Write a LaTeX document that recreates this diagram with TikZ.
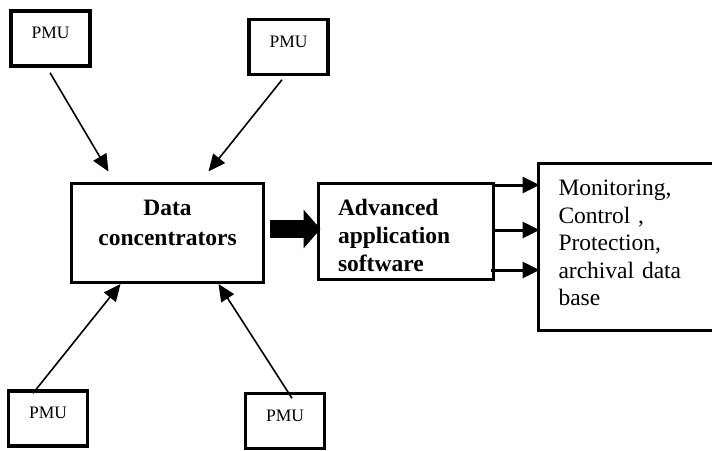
\documentclass[tikz,border=0pt]{standalone}
\usepackage{fontspec}
\setmainfont{Liberation Serif}
\usetikzlibrary{arrows.meta,calc}

\begin{document}
\begin{tikzpicture}[
  x=1pt,y=-1pt,line width=3pt,
  pmubox/.style={draw,line width=3.5pt,minimum width=79pt,minimum height=55pt,inner sep=0pt,
    font=\fontsize{17.5}{20}\selectfont,text height=6pt,text depth=6pt},
  mainbox/.style={draw,line width=3pt,inner sep=0pt},
  headtxt/.style={font=\fontsize{23.5}{28}\selectfont\bfseries,inner sep=0pt},
  listtxt/.style={font=\fontsize{23.5}{27.5}\selectfont,inner sep=0pt,text width=140pt,align=left},
  feed/.style={-{Triangle[length=17pt,width=15pt]},line width=1.6pt},
  outarrow/.style={-{Triangle[length=17pt,width=16pt]},line width=3pt,shorten >=-2.5pt}
]
\clip (0,0) rectangle (712,450);

\node[pmubox] (p1) at (50.5,38.5) {PMU};
\node[pmubox] (p2) at (288.5,47) {PMU};
\node[pmubox] (p3) at (48,418.5) {PMU};
\node[pmubox] (p4) at (285,421) {PMU};

\node[mainbox,minimum width=192pt,minimum height=99pt] (dc) at (167.5,233) {};
\node[headtxt,align=center,font=\fontsize{23.5}{30}\selectfont\bfseries] (dctxt)
  at ([yshift=10pt]dc.center) {Data\\concentrators};

\node[mainbox,minimum width=175pt,minimum height=96pt] (aas) at (406,231.5) {};
\begin{scope}
  \clip (aas.north west) rectangle ([yshift=10pt]aas.south east);
  \node[headtxt,text width=136pt,align=left] (aastxt) at ([yshift=-3.5pt]aas.center)
    {Advanced\\application\\software};
\end{scope}

\node[mainbox,minimum width=180pt,minimum height=167pt] (rb) at (628.5,247) {};
\node[listtxt] (rbtxt) at ([yshift=4pt]rb.center)
  {Monitoring,\\Control ,\\Protection,\\archival data\\base};

% PMU feeds
\draw[feed] ([xshift=-0.5pt,yshift=-5pt]p1.south) -- ([xshift=38.5pt,yshift=10.5pt]dc.north west);
\draw[feed] ([xshift=-6.5pt,yshift=-3.5pt]p2.south) -- ([xshift=138.5pt,yshift=10.5pt]dc.north west);
\draw[feed] ([xshift=-15pt,yshift=-4pt]p3.north) -- ([xshift=50.5pt]dc.south west);
\draw[feed] ([xshift=7pt,yshift=-6.5pt]p4.north) -- ([xshift=148.5pt]dc.south west);

% block arrow
\draw[line width=18pt,-{Triangle[length=17pt,width=38pt]},shorten <=4.5pt,shorten >=-3.5pt]
  (dc.east |- 0,229) -- (aas.west |- 0,229);

\draw[outarrow] (aas.east |- 0,185) -- (rb.west |- 0,185);
\draw[outarrow] (aas.east |- 0,230) -- (rb.west |- 0,230);
\draw[outarrow,shorten <=-4pt] (aas.east |- 0,270) -- (rb.west |- 0,270);
\end{tikzpicture}
\end{document}
